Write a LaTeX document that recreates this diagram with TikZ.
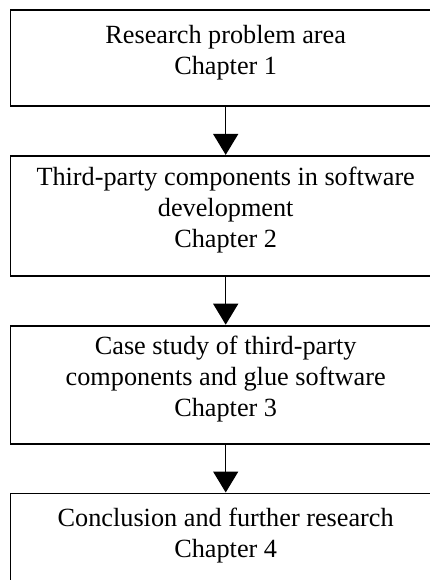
\documentclass[tikz,border=0pt]{standalone}
\usepackage{fontspec}
\setmainfont{Liberation Serif}
\usetikzlibrary{positioning, arrows.meta}
\tikzstyle{chapter} = [rectangle, minimum width=430.4pt, text centered, align=center, draw=black, line width=1.8pt, text depth=17pt, font=\fontsize{26.25pt}{31pt}\selectfont]
\tikzstyle{arrow} = [line width=1.5pt,-{Triangle[width=25pt,length=21pt]}]

\begin{document}
\begin{tikzpicture}[node distance=48pt]
  \useasboundingbox (0,0) rectangle (430pt,-580pt);
  \node (ch1) [chapter, minimum height=96pt] at (225.7pt,-58pt) {Research problem area\\Chapter 1};
  \node (ch2) [chapter, minimum height=120pt, below=of ch1] {Third-party components in software\\development\\Chapter 2};
  \node (ch3) [chapter, minimum height=118pt, below=of ch2] {Case study of third-party\\components and glue software\\Chapter 3};
  \node (ch4) [chapter, minimum height=96pt, below=of ch3] {Conclusion and further research\\Chapter 4};

  \draw [arrow] (ch1) -- (ch2);
  \draw [arrow] (ch2) -- (ch3);
  \draw [arrow] (ch3) -- (ch4);
\end{tikzpicture}
\end{document}
